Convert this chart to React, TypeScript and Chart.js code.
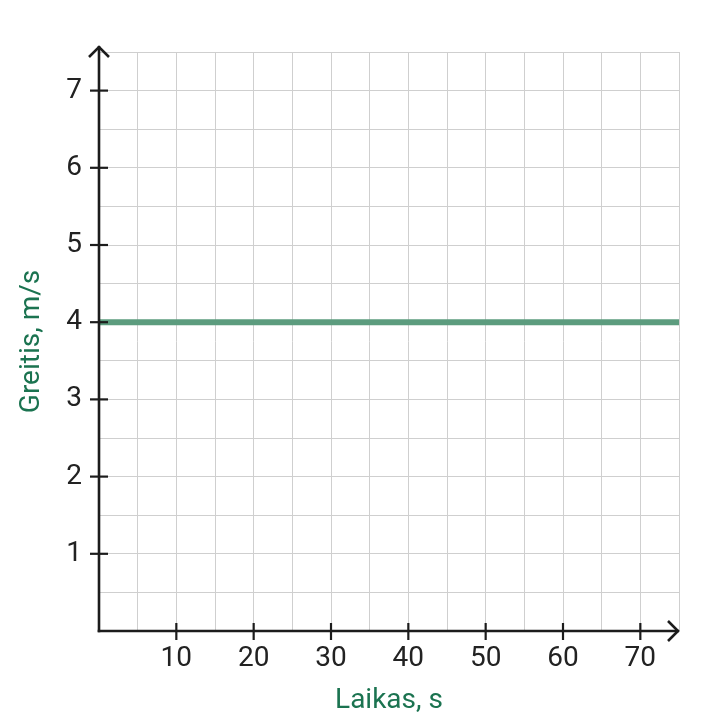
import { useEffect, useRef } from "react";
import { Chart, ChartConfiguration, Plugin, registerables } from "chart.js";

Chart.register(...registerables);

// Data
const times = [0, 75];
const speeds = [4, 4];
const xTickLabels = [10, 20, 30, 40, 50, 60, 70];
const yTickLabels = [1, 2, 3, 4, 5, 6, 7];

const AXIS_COLOR = "#1c1c1c";
const TITLE_COLOR = "#1b7350";
const LINE_COLOR = "#5c9c7e";

// Axis lines with arrows and tick marks
const axesPlugin: Plugin = {
  id: "axesArrows",
  afterDraw(chart) {
    const { ctx, chartArea } = chart;
    const x = chart.scales.x;
    const y = chart.scales.y;
    const x0 = x.getPixelForValue(0);
    const y0 = y.getPixelForValue(0);
    ctx.save();
    ctx.strokeStyle = AXIS_COLOR;
    ctx.lineWidth = 2.6;
    ctx.lineCap = "butt";
    ctx.lineJoin = "miter";

    // y axis
    const yTop = chartArea.top - 6;
    ctx.beginPath();
    ctx.moveTo(x0, y0 + 1.3);
    ctx.lineTo(x0, yTop);
    ctx.stroke();
    ctx.beginPath();
    ctx.moveTo(x0 - 10, yTop + 11);
    ctx.lineTo(x0, yTop + 1);
    ctx.lineTo(x0 + 10, yTop + 11);
    ctx.stroke();

    // x axis
    const xRight = chartArea.right;
    ctx.beginPath();
    ctx.moveTo(x0 - 1.3, y0);
    ctx.lineTo(xRight, y0);
    ctx.stroke();
    ctx.beginPath();
    ctx.moveTo(xRight - 11, y0 - 10);
    ctx.lineTo(xRight - 1, y0);
    ctx.lineTo(xRight - 11, y0 + 10);
    ctx.stroke();

    // tick marks
    ctx.lineWidth = 2.2;
    xTickLabels.forEach((v) => {
      const px = x.getPixelForValue(v);
      ctx.beginPath();
      ctx.moveTo(px, y0 - 8);
      ctx.lineTo(px, y0 + 9);
      ctx.stroke();
    });
    yTickLabels.forEach((v) => {
      const py = y.getPixelForValue(v);
      ctx.beginPath();
      ctx.moveTo(x0 - 9, py);
      ctx.lineTo(x0 + 9, py);
      ctx.stroke();
    });
    ctx.restore();
  },
};

export default function App() {
  const chartRef = useRef<HTMLCanvasElement>(null);
  const chartInstance = useRef<Chart | null>(null);

  useEffect(() => {
    if (!chartRef.current) return;
    if (chartInstance.current) {
      chartInstance.current.destroy();
    }

    const config: ChartConfiguration = {
      type: "scatter",
      data: {
        datasets: [
          {
            data: times.map((t, i) => ({ x: t, y: speeds[i] })),
            showLine: true,
            borderColor: LINE_COLOR,
            borderWidth: 6,
            pointRadius: 0,
            fill: false,
          },
        ],
      },
      options: {
        animation: false,
        responsive: true,
        maintainAspectRatio: false,
        layout: { padding: { top: 52, right: 24, left: 0, bottom: 0 } },
        plugins: {
          legend: { display: false },
          tooltip: { enabled: false },
        },
        scales: {
          x: {
            type: "linear",
            min: 0,
            max: 75,
            afterFit: (scale) => {
              scale.height = 94;
            },
            border: { display: false },
            grid: { color: "#cfcfcf", lineWidth: 1, drawTicks: false },
            ticks: {
              stepSize: 5,
              autoSkip: false,
              maxRotation: 0,
              padding: 11,
              color: "#222",
              font: { family: "Roboto", size: 28 },
              callback: (v) => (xTickLabels.includes(Number(v)) ? String(v) : ""),
            },
            title: {
              display: true,
              text: "Laikas, s",
              color: TITLE_COLOR,
              font: { family: "Roboto", size: 28 },
              padding: { top: 0, bottom: 7 },
            },
          },
          y: {
            type: "linear",
            min: 0,
            max: 7.5,
            afterFit: (scale) => {
              scale.width = 99;
            },
            border: { display: false },
            grid: { color: "#cfcfcf", lineWidth: 1, drawTicks: false },
            ticks: {
              stepSize: 0.5,
              autoSkip: false,
              padding: 17,
              color: "#222",
              font: { family: "Roboto", size: 28 },
              callback: (v) => (yTickLabels.includes(Number(v)) ? String(v) : ""),
            },
            title: {
              display: true,
              text: "Greitis, m/s",
              color: TITLE_COLOR,
              font: { family: "Roboto", size: 28 },
              padding: { top: 15, bottom: 0 },
            },
          },
        },
      },
      plugins: [axesPlugin],
    };

    chartInstance.current = new Chart(chartRef.current, config);

    return () => {
      if (chartInstance.current) {
        chartInstance.current.destroy();
        chartInstance.current = null;
      }
    };
  }, []);

  return (
    <div style={{ position: "absolute", left: 0, top: 0, width: 703, height: 725, background: "#fff" }}>
      <canvas ref={chartRef}></canvas>
    </div>
  );
}
